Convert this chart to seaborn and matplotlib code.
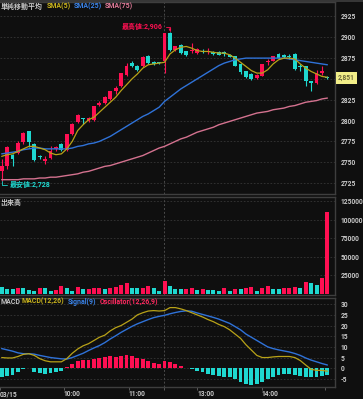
import matplotlib
matplotlib.use("Agg")
import matplotlib.pyplot as plt
import matplotlib.transforms as mtrans
import seaborn as sns
import numpy as np
import pandas as pd

# ---------------- data ----------------
opens = [2739, 2745, 2759, 2761, 2774, 2787, 2772, 2757, 2752, 2755,
         2766, 2772, 2765, 2784, 2798, 2803, 2800, 2801, 2819, 2821,
         2826, 2835, 2841, 2855, 2869, 2866, 2865, 2877, 2870, 2870,
         2871, 2905, 2885, 2891, 2883, 2884, 2881, 2884, 2882, 2882,
         2882, 2882, 2879, 2877, 2868, 2859, 2856, 2851, 2854, 2870,
         2872, 2880, 2879, 2878, 2880, 2866, 2865, 2847, 2845, 2857, 2852]
highs = [2754, 2770, 2760, 2775, 2786, 2788, 2773, 2759, 2758, 2769,
         2770, 2773, 2784, 2797, 2808, 2803, 2804, 2818, 2823, 2829,
         2836, 2841, 2857, 2869, 2871, 2867, 2877, 2879, 2872, 2870,
         2905, 2906, 2890, 2892, 2884, 2893, 2887, 2886, 2887, 2883,
         2883, 2884, 2880, 2878, 2869, 2860, 2857, 2856, 2868, 2874,
         2878, 2881, 2880, 2880, 2881, 2868, 2866, 2848, 2861, 2865, 2853]
lows = [2728, 2742, 2745, 2760, 2772, 2768, 2752, 2754, 2748, 2754,
        2764, 2764, 2764, 2783, 2797, 2796, 2798, 2800, 2817, 2820,
        2825, 2832, 2840, 2854, 2864, 2860, 2864, 2868, 2867, 2868,
        2857, 2884, 2883, 2880, 2878, 2881, 2880, 2881, 2880, 2879,
        2879, 2878, 2876, 2865, 2856, 2851, 2849, 2850, 2853, 2867,
        2871, 2874, 2875, 2874, 2861, 2860, 2841, 2836, 2844, 2855, 2850]
closes = [2745, 2768, 2754, 2773, 2785, 2774, 2753, 2756, 2754, 2763,
          2768, 2765, 2784, 2796, 2807, 2802, 2803, 2817, 2821, 2828,
          2835, 2839, 2857, 2865, 2865, 2861, 2876, 2869, 2868, 2869,
          2905, 2885, 2889, 2881, 2879, 2885, 2886, 2882, 2884, 2880,
          2879, 2880, 2876, 2866, 2858, 2852, 2850, 2855, 2868, 2871,
          2877, 2875, 2876, 2876, 2862, 2864, 2847, 2845, 2857, 2859, 2851]

sma5 = [2757, 2759, 2760, 2763, 2766, 2769, 2769, 2767, 2765, 2761,
        2759, 2760, 2766, 2775, 2788, 2795, 2801, 2804, 2810, 2816,
        2822, 2828, 2836, 2843, 2850, 2856, 2863, 2867, 2868, 2869,
        2870, 2880, 2885, 2888, 2889, 2887, 2884, 2883, 2883, 2882,
        2881, 2881, 2879, 2875, 2870, 2865, 2860, 2857, 2857, 2861,
        2868, 2873, 2875, 2875, 2874, 2868, 2863, 2859, 2856, 2853, 2852]
sma25 = [2760, 2761, 2762, 2763, 2765, 2766, 2767, 2767, 2766, 2766,
         2766, 2766, 2766, 2767, 2769, 2770, 2772, 2773, 2775, 2778,
         2781, 2785, 2789, 2793, 2797, 2801, 2805, 2808, 2812, 2816,
         2823, 2828, 2833, 2838, 2842, 2846, 2850, 2854, 2858, 2862,
         2866, 2869, 2871, 2873, 2874, 2875, 2875, 2875, 2875, 2875,
         2875, 2875, 2875, 2874, 2873, 2872, 2871, 2870, 2869, 2868, 2867]
sma75 = [2729, 2729, 2729, 2729, 2730, 2730, 2730, 2731, 2731, 2732,
         2732, 2733, 2734, 2735, 2736, 2738, 2739, 2741, 2743, 2745,
         2746, 2748, 2750, 2752, 2754, 2756, 2758, 2761, 2764, 2767,
         2769, 2772, 2775, 2778, 2780, 2783, 2786, 2788, 2790, 2792,
         2795, 2797, 2799, 2801, 2803, 2805, 2807, 2809, 2810, 2811,
         2813, 2814, 2815, 2817, 2818, 2820, 2822, 2823, 2824, 2826, 2827]

volume = [9000, 6000, 6000, 7700, 7700, 4700, 3800, 6800, 6800, 3400,
          4700, 10200, 6800, 3400, 8500, 5500, 6000, 6800, 7700, 5500,
          6800, 9400, 12000, 13700, 7700, 6800, 7700, 10200, 7700, 3400,
          17500, 9800, 6000, 6000, 5500, 7700, 4700, 5500, 4300, 4300,
          3800, 6800, 3400, 5500, 5500, 6800, 9400, 3400, 6800, 9800,
          5500, 5500, 6800, 7700, 9000, 8100, 15400, 14500, 12000, 20500, 110000]
vol_up = [0, 0, 0, 1, 0, 0, 0, 1, 0, 0, 1, 1, 0, 0, 1, 0, 1, 1, 1, 0,
          1, 1, 1, 1, 0, 0, 1, 1, 0, 0, 1,
          0, 0, 0, 1, 1, 0, 1, 0, 0, 0, 1, 0, 1, 0, 1, 1, 0, 1, 1, 0,
          0, 1, 1, 1, 0, 1, 0, 0, 1, 1]

macd = [5.0, 4.8, 4.8, 5.5, 6.5, 6.8, 6.0, 4.5, 3.5, 3.0,
        3.0, 3.0, 4.5, 7.0, 9.0, 10.5, 11.5, 13.0, 14.5, 15.5,
        17.5, 19.0, 20.0, 21.5, 23.0, 25.0, 26.0, 26.8, 27.0, 26.8,
        27.0, 28.4, 28.4, 27.8, 27.0, 26.0, 25.0, 24.0, 22.8, 21.8,
        20.5, 19.5, 18.0, 16.0, 14.0, 11.0, 8.5, 6.0, 5.0, 5.0,
        5.3, 5.5, 5.5, 5.5, 5.0, 3.6, 1.5, -0.5, -1.0, -1.0, -1.4]
signal = [9.2, 8.6, 8.0, 7.2, 6.8, 6.8, 6.6, 6.0, 5.5, 5.0,
          4.7, 4.4, 4.3, 5.0, 6.0, 7.0, 8.3, 9.5, 10.6, 12.0,
          13.7, 15.2, 16.8, 18.2, 19.6, 20.8, 21.8, 22.8, 23.7, 24.3,
          24.8, 25.5, 26.1, 26.6, 26.9, 26.7, 25.9, 25.2, 24.5, 23.8,
          23.0, 22.0, 21.0, 19.5, 18.0, 16.0, 14.5, 13.0, 11.5, 10.0,
          9.2, 8.6, 8.1, 7.6, 6.9, 6.0, 4.8, 3.8, 3.0, 2.2, 1.5]
oscillator = [-4.3, -3.5, -3.2, -1.7, -0.5, -0.1, -1.7, -2.3, -2.8, -2.3,
              -1.7, -1.2, 0.8, 1.9, 3.4, 3.7, 3.7, 4.5, 4.9, 5.2,
              5.7, 5.4, 5.7, 6.0, 5.7, 4.9, 4.2, 3.4, 2.6, 1.9,
              3.4, 2.9, 2.2, 1.1, 0.3, -0.5, -1.2, -2.0, -2.8, -3.2,
              -3.5, -4.0, -4.3, -5.1, -6.3, -7.4, -7.9, -7.4, -6.3, -5.1,
              -4.0, -3.2, -2.8, -2.8, -3.2, -3.5, -4.0, -4.3, -4.0, -3.5, -3.2]

price_ticks = [2725, 2750, 2775, 2800, 2825, 2850, 2875, 2900, 2925]
volume_ticks = [25000, 50000, 75000, 100000, 125000]
macd_ticks = [-5, 0, 5, 10, 15, 20, 25, 30]
time_tick_pos = [-0.3, 11.4, 23.4, 29.9, 36.0, 47.9, 59.6]
time_tick_labels = ["03/15", "10:00", "11:00", "", "13:00", "14:00", ""]
last_price = 2851
high_value, high_idx = 2906, 31
low_value, low_idx = 2728, 0

# ---------------- style ----------------
W, H = 363, 399
BG = "#0f0f0f"
UP = "#ff0f52"
DN = "#1fd8d0"
C5 = "#b8a218"
C25 = "#2f72d8"
C75 = "#d4728f"
GRID = "#363636"
TXT = "#c8c8c8"

sns.set_theme(style="dark", rc={"axes.facecolor": BG, "figure.facecolor": BG})
plt.rcParams["font.family"] = ["Roboto", "DejaVu Sans", "Noto Sans CJK JP"]
FS = 4.8

df = pd.DataFrame({"idx": np.arange(len(closes)), "open": opens, "high": highs,
                   "low": lows, "close": closes, "sma5": sma5, "sma25": sma25,
                   "sma75": sma75, "volume": volume, "vol_up": vol_up,
                   "macd": macd, "signal": signal, "osc": oscillator})
df["up"] = df["close"] >= df["open"]
df["col"] = np.where(df["up"], UP, DN)
df["vcol"] = np.where(df["vol_up"] == 1, UP, DN)
df["ocol"] = np.where(df["osc"] >= 0, UP, DN)
df["body_lo"] = df[["open", "close"]].min(axis=1)
df["body_h"] = (df["close"] - df["open"]).abs().clip(lower=0.8)

fig = plt.figure(figsize=(W / 100, H / 100), dpi=100)


def add_panel(top, bottom):
    return fig.add_axes([0, 1 - bottom / H, 335 / W, (bottom - top) / H])


ax1 = add_panel(2, 194)
ax2 = add_panel(197, 295)
ax3 = add_panel(298, 387)

XL = (-0.31, 61.4)
for ax in (ax1, ax2, ax3):
    ax.set_facecolor(BG)
    ax.set_xlim(*XL)
    ax.yaxis.tick_right()
    ax.tick_params(axis="y", length=0, pad=4, labelsize=FS, labelcolor=TXT)
    ax.grid(False)
    ax.spines["left"].set_visible(False)
    for s in ("top", "right", "bottom"):
        ax.spines[s].set_color("#3e3e3e")
        ax.spines[s].set_linewidth(1.0)
    ax.axvline(29.9, color="#4a4a4a", lw=0.7, ls=(0, (2, 2)), zorder=0.5)

# ---------------- main price panel ----------------
ax1.set_ylim(2711.8, 2942.4)
ax1.set_yticks(price_ticks)
# the 2850 label is hidden under the last-price tag in the reference
ax1.set_yticklabels(["" if t == 2850 else str(t) for t in price_ticks], fontweight="bold")
for t in price_ticks:
    ax1.axhline(t, color=GRID, lw=0.6, ls=(0, (2, 2)), zorder=0.4)
ax1.vlines(df["idx"], df["low"], df["high"], colors=df["col"], lw=0.8, zorder=2)
ax1.bar(df["idx"], df["body_h"], bottom=df["body_lo"], width=0.72,
        color=df["col"], linewidth=0, zorder=2.1)
sns.lineplot(data=df, x="idx", y="sma75", ax=ax1, color=C75, lw=1.0, zorder=3)
sns.lineplot(data=df, x="idx", y="sma25", ax=ax1, color=C25, lw=1.0, zorder=3)
sns.lineplot(data=df, x="idx", y="sma5", ax=ax1, color=C5, lw=0.9, zorder=3)
ax1.set_xticks([])
ax1.set_xlabel("")
ax1.set_ylabel("")

ax1.annotate(f"最高値:{high_value:,}", xy=(high_idx, high_value), xytext=(29.6, 2912.4),
             ha="right", va="center", color=UP, fontsize=5, fontweight="bold",
             arrowprops=dict(arrowstyle="-|>,head_length=0.25,head_width=0.12",
                             connectionstyle="angle,angleA=0,angleB=90,rad=0",
                             color=UP, lw=0.6, shrinkA=0, shrinkB=0.5))
ax1.annotate(f"最安値:{low_value:,}", xy=(low_idx, low_value), xytext=(1.55, 2722.4),
             ha="left", va="center", color=DN, fontsize=5, fontweight="bold",
             arrowprops=dict(arrowstyle="-", connectionstyle="angle,angleA=0,angleB=90,rad=0",
                             color=DN, lw=0.6, shrinkA=0, shrinkB=0))

tr = mtrans.blended_transform_factory(ax1.transAxes, ax1.transData)
ax1.text(1.009, last_price, f"{last_price:,}", transform=tr, ha="left", va="center",
         fontsize=FS, color="#6e6a3a", fontweight="bold", clip_on=False, zorder=10,
         bbox=dict(boxstyle="square,pad=0.3", fc="#f2ee88", ec="none"))

# ---------------- volume panel ----------------
ax2.set_ylim(-2000, 130400)
ax2.set_yticks(volume_ticks)
ax2.set_yticklabels([str(t) for t in volume_ticks], fontweight="bold")
for t in volume_ticks:
    ax2.axhline(t, color=GRID, lw=0.6, ls=(0, (2, 2)), zorder=0.4)
ax2.bar(df["idx"], df["volume"], width=0.75, color=df["vcol"], linewidth=0, zorder=2)
ax2.set_xticks([])
ax2.set_xlabel("")
ax2.set_ylabel("")

# ---------------- MACD panel ----------------
ax3.set_ylim(-8.8, 32.9)
ax3.set_yticks(macd_ticks)
ax3.set_yticklabels([str(t) for t in macd_ticks], fontweight="bold")
for t in macd_ticks:
    ax3.axhline(t, color=GRID, lw=0.6, ls=(0, (2, 2)), zorder=0.4)
ax3.bar(df["idx"], df["osc"], width=0.72, color=df["ocol"], linewidth=0, zorder=2)
sns.lineplot(data=df, x="idx", y="signal", ax=ax3, color=C25, lw=1.0, zorder=3)
sns.lineplot(data=df, x="idx", y="macd", ax=ax3, color=C5, lw=0.9, zorder=3)
ax3.set_xticks(time_tick_pos)
ax3.set_xticklabels(time_tick_labels)
ax3.tick_params(axis="x", length=2, width=0.6, color="#666666", pad=0.5,
                labelsize=FS, labelcolor=TXT, bottom=True)
for lab in ax3.get_xticklabels():
    lab.set_ha("left")
    lab.set_fontweight("bold")
ax3.set_xlabel("")
ax3.set_ylabel("")

# ---------------- legends / captions ----------------
def ftext(x, y, s, c, fs=5):
    fig.text(x / W, 1 - y / H, s, color=c, fontsize=fs, fontweight="bold",
             ha="left", va="center")


ftext(0.5, 6.5, "単純移動平均", TXT)
ftext(47, 6.5, "SMA(5)", "#c9b31c")
ftext(74, 6.5, "SMA(25)", "#3a82e6")
ftext(105, 6.5, "SMA(75)", "#e07a98")
ftext(0.5, 202.5, "出来高", TXT)
ftext(0.5, 301.5, "MACD", TXT)
ftext(22, 301.5, "MACD(12,26)", "#c9b31c")
ftext(68, 301.5, "Signal(9)", "#3a82e6")
ftext(100, 301.5, "Oscillator(12,26,9)", "#ff2a60")

fig.add_artist(plt.Line2D([0, 1], [1 - 0.5 / H, 1 - 0.5 / H], transform=fig.transFigure,
                          color="#3e3e3e", lw=1.2))

fig.savefig("out.png", dpi=100, facecolor=BG)
